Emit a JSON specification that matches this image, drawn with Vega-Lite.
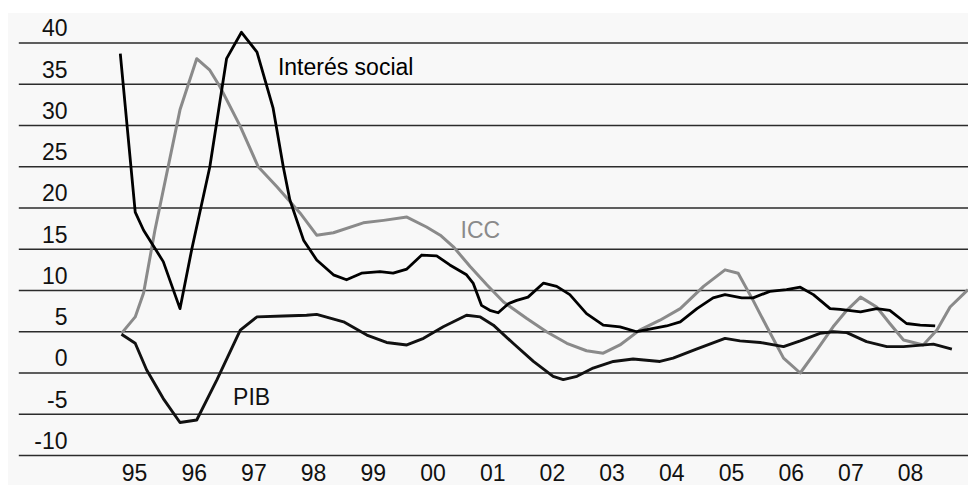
{
  "$schema": "https://vega.github.io/schema/vega-lite/v6.json",
  "width": 960,
  "height": 472,
  "autosize": "none",
  "padding": {"left": 8, "top": 13, "right": 0, "bottom": 0},
  "background": "white",
  "config": {"view": {"stroke": null, "fill": "#f8f8f8"}, "font": "Liberation Sans"},
  "datasets": {
    "grid": [{"v": -10}, {"v": -5}, {"v": 0}, {"v": 5}, {"v": 10}, {"v": 15}, {"v": 20}, {"v": 25}, {"v": 30}, {"v": 35}, {"v": 40}],
    "labels": [
      {"series": "Interés social", "t": 1997.41, "v": 36.1},
      {"series": "ICC", "t": 2000.47, "v": 16.33},
      {"series": "PIB", "t": 1996.66, "v": -3.88}
    ],
    "lines": [
      {"series": "ICC", "t": 1994.79, "v": 4.8},
      {"series": "ICC", "t": 1995.02, "v": 6.8},
      {"series": "ICC", "t": 1995.16, "v": 9.7},
      {"series": "ICC", "t": 1995.35, "v": 17.3},
      {"series": "ICC", "t": 1995.77, "v": 31.9},
      {"series": "ICC", "t": 1996.05, "v": 38.1},
      {"series": "ICC", "t": 1996.27, "v": 36.7},
      {"series": "ICC", "t": 1996.44, "v": 34.7},
      {"series": "ICC", "t": 1996.78, "v": 29.9},
      {"series": "ICC", "t": 1997.08, "v": 25.0},
      {"series": "ICC", "t": 1997.39, "v": 22.6},
      {"series": "ICC", "t": 1997.78, "v": 19.4},
      {"series": "ICC", "t": 1998.06, "v": 16.7},
      {"series": "ICC", "t": 1998.34, "v": 17.0},
      {"series": "ICC", "t": 1998.84, "v": 18.2},
      {"series": "ICC", "t": 1999.18, "v": 18.5},
      {"series": "ICC", "t": 1999.57, "v": 18.9},
      {"series": "ICC", "t": 1999.90, "v": 17.7},
      {"series": "ICC", "t": 2000.13, "v": 16.7},
      {"series": "ICC", "t": 2000.35, "v": 15.3},
      {"series": "ICC", "t": 2000.63, "v": 12.9},
      {"series": "ICC", "t": 2000.91, "v": 10.7},
      {"series": "ICC", "t": 2001.19, "v": 8.6},
      {"series": "ICC", "t": 2001.58, "v": 6.6},
      {"series": "ICC", "t": 2001.91, "v": 5.0},
      {"series": "ICC", "t": 2002.25, "v": 3.6},
      {"series": "ICC", "t": 2002.58, "v": 2.7},
      {"series": "ICC", "t": 2002.86, "v": 2.4},
      {"series": "ICC", "t": 2003.14, "v": 3.4},
      {"series": "ICC", "t": 2003.47, "v": 5.2},
      {"series": "ICC", "t": 2003.81, "v": 6.4},
      {"series": "ICC", "t": 2004.15, "v": 7.8},
      {"series": "ICC", "t": 2004.54, "v": 10.5},
      {"series": "ICC", "t": 2004.90, "v": 12.5},
      {"series": "ICC", "t": 2005.12, "v": 12.1},
      {"series": "ICC", "t": 2005.37, "v": 8.8},
      {"series": "ICC", "t": 2005.60, "v": 5.6},
      {"series": "ICC", "t": 2005.88, "v": 1.8},
      {"series": "ICC", "t": 2006.16, "v": 0.0},
      {"series": "ICC", "t": 2006.44, "v": 2.8},
      {"series": "ICC", "t": 2006.71, "v": 5.6},
      {"series": "ICC", "t": 2006.94, "v": 7.6},
      {"series": "ICC", "t": 2007.17, "v": 9.2},
      {"series": "ICC", "t": 2007.44, "v": 8.0},
      {"series": "ICC", "t": 2007.66, "v": 6.0},
      {"series": "ICC", "t": 2007.89, "v": 4.0},
      {"series": "ICC", "t": 2008.22, "v": 3.4},
      {"series": "ICC", "t": 2008.45, "v": 5.2},
      {"series": "ICC", "t": 2008.67, "v": 8.0},
      {"series": "ICC", "t": 2008.97, "v": 10.1},
      {"series": "PIB", "t": 1994.79, "v": 4.7},
      {"series": "PIB", "t": 1995.02, "v": 3.6},
      {"series": "PIB", "t": 1995.21, "v": 0.4},
      {"series": "PIB", "t": 1995.49, "v": -3.1},
      {"series": "PIB", "t": 1995.77, "v": -6.0},
      {"series": "PIB", "t": 1996.05, "v": -5.7},
      {"series": "PIB", "t": 1996.39, "v": -0.8},
      {"series": "PIB", "t": 1996.78, "v": 5.2},
      {"series": "PIB", "t": 1997.06, "v": 6.8},
      {"series": "PIB", "t": 1997.50, "v": 6.9},
      {"series": "PIB", "t": 1997.89, "v": 7.0},
      {"series": "PIB", "t": 1998.06, "v": 7.1},
      {"series": "PIB", "t": 1998.51, "v": 6.2},
      {"series": "PIB", "t": 1998.90, "v": 4.6},
      {"series": "PIB", "t": 1999.23, "v": 3.7},
      {"series": "PIB", "t": 1999.57, "v": 3.4},
      {"series": "PIB", "t": 1999.85, "v": 4.2},
      {"series": "PIB", "t": 2000.18, "v": 5.6},
      {"series": "PIB", "t": 2000.57, "v": 7.0},
      {"series": "PIB", "t": 2000.80, "v": 6.8},
      {"series": "PIB", "t": 2001.02, "v": 5.8},
      {"series": "PIB", "t": 2001.35, "v": 3.6},
      {"series": "PIB", "t": 2001.69, "v": 1.4},
      {"series": "PIB", "t": 2002.02, "v": -0.4},
      {"series": "PIB", "t": 2002.19, "v": -0.8},
      {"series": "PIB", "t": 2002.42, "v": -0.4},
      {"series": "PIB", "t": 2002.69, "v": 0.6},
      {"series": "PIB", "t": 2003.03, "v": 1.4},
      {"series": "PIB", "t": 2003.36, "v": 1.7},
      {"series": "PIB", "t": 2003.81, "v": 1.4},
      {"series": "PIB", "t": 2004.03, "v": 1.8},
      {"series": "PIB", "t": 2004.42, "v": 2.9},
      {"series": "PIB", "t": 2004.90, "v": 4.2},
      {"series": "PIB", "t": 2005.15, "v": 3.9},
      {"series": "PIB", "t": 2005.49, "v": 3.7},
      {"series": "PIB", "t": 2005.88, "v": 3.2},
      {"series": "PIB", "t": 2006.16, "v": 3.9},
      {"series": "PIB", "t": 2006.49, "v": 4.8},
      {"series": "PIB", "t": 2006.71, "v": 5.0},
      {"series": "PIB", "t": 2006.94, "v": 4.9},
      {"series": "PIB", "t": 2007.27, "v": 3.8},
      {"series": "PIB", "t": 2007.61, "v": 3.2},
      {"series": "PIB", "t": 2007.89, "v": 3.2},
      {"series": "PIB", "t": 2008.39, "v": 3.5},
      {"series": "PIB", "t": 2008.70, "v": 2.9},
      {"series": "Interés social", "t": 1994.77, "v": 38.7},
      {"series": "Interés social", "t": 1995.02, "v": 19.5},
      {"series": "Interés social", "t": 1995.16, "v": 17.3},
      {"series": "Interés social", "t": 1995.49, "v": 13.5},
      {"series": "Interés social", "t": 1995.77, "v": 7.8},
      {"series": "Interés social", "t": 1995.97, "v": 15.1},
      {"series": "Interés social", "t": 1996.27, "v": 25.0},
      {"series": "Interés social", "t": 1996.55, "v": 38.1},
      {"series": "Interés social", "t": 1996.80, "v": 41.3},
      {"series": "Interés social", "t": 1997.06, "v": 38.9},
      {"series": "Interés social", "t": 1997.33, "v": 32.1},
      {"series": "Interés social", "t": 1997.50, "v": 25.0},
      {"series": "Interés social", "t": 1997.61, "v": 21.0},
      {"series": "Interés social", "t": 1997.84, "v": 16.1},
      {"series": "Interés social", "t": 1998.06, "v": 13.7},
      {"series": "Interés social", "t": 1998.34, "v": 11.9},
      {"series": "Interés social", "t": 1998.56, "v": 11.3},
      {"series": "Interés social", "t": 1998.81, "v": 12.1},
      {"series": "Interés social", "t": 1999.12, "v": 12.3},
      {"series": "Interés social", "t": 1999.34, "v": 12.1},
      {"series": "Interés social", "t": 1999.57, "v": 12.6},
      {"series": "Interés social", "t": 1999.82, "v": 14.3},
      {"series": "Interés social", "t": 2000.07, "v": 14.2},
      {"series": "Interés social", "t": 2000.29, "v": 13.1},
      {"series": "Interés social", "t": 2000.57, "v": 11.9},
      {"series": "Interés social", "t": 2000.68, "v": 10.9},
      {"series": "Interés social", "t": 2000.82, "v": 8.2},
      {"series": "Interés social", "t": 2000.96, "v": 7.6},
      {"series": "Interés social", "t": 2001.10, "v": 7.3},
      {"series": "Interés social", "t": 2001.27, "v": 8.4},
      {"series": "Interés social", "t": 2001.41, "v": 8.8},
      {"series": "Interés social", "t": 2001.60, "v": 9.2},
      {"series": "Interés social", "t": 2001.86, "v": 10.9},
      {"series": "Interés social", "t": 2002.08, "v": 10.5},
      {"series": "Interés social", "t": 2002.30, "v": 9.5},
      {"series": "Interés social", "t": 2002.58, "v": 7.2},
      {"series": "Interés social", "t": 2002.86, "v": 5.8},
      {"series": "Interés social", "t": 2003.14, "v": 5.6},
      {"series": "Interés social", "t": 2003.42, "v": 5.0},
      {"series": "Interés social", "t": 2003.70, "v": 5.4},
      {"series": "Interés social", "t": 2003.92, "v": 5.7},
      {"series": "Interés social", "t": 2004.15, "v": 6.2},
      {"series": "Interés social", "t": 2004.43, "v": 7.8},
      {"series": "Interés social", "t": 2004.70, "v": 9.1},
      {"series": "Interés social", "t": 2004.90, "v": 9.5},
      {"series": "Interés social", "t": 2005.18, "v": 9.1},
      {"series": "Interés social", "t": 2005.37, "v": 9.1},
      {"series": "Interés social", "t": 2005.65, "v": 9.9},
      {"series": "Interés social", "t": 2005.93, "v": 10.1},
      {"series": "Interés social", "t": 2006.16, "v": 10.4},
      {"series": "Interés social", "t": 2006.38, "v": 9.5},
      {"series": "Interés social", "t": 2006.66, "v": 7.8},
      {"series": "Interés social", "t": 2006.83, "v": 7.7},
      {"series": "Interés social", "t": 2007.17, "v": 7.4},
      {"series": "Interés social", "t": 2007.44, "v": 7.8},
      {"series": "Interés social", "t": 2007.66, "v": 7.6},
      {"series": "Interés social", "t": 2007.94, "v": 6.0},
      {"series": "Interés social", "t": 2008.17, "v": 5.8},
      {"series": "Interés social", "t": 2008.42, "v": 5.7}
    ]
  },
  "layer": [
    {
      "data": {"name": "grid"},
      "mark": {"type": "rule", "color": "#2b2b2b", "strokeWidth": 1.6},
      "encoding": {
        "y": {"field": "v", "type": "quantitative", "scale": {"domain": [-13.576, 43.636], "nice": false, "zero": false}},
        "x": {"datum": 1993.07, "type": "quantitative", "scale": {"domain": [1992.889, 2008.97], "nice": false, "zero": false}},
        "x2": {"datum": 2008.97}
      }
    },
    {
      "data": {"name": "lines"},
      "mark": {"type": "line", "strokeJoin": "round", "strokeCap": "butt"},
      "encoding": {
        "x": {"field": "t", "type": "quantitative", "scale": {"domain": [1992.889, 2008.97], "nice": false, "zero": false},
          "axis": {"values": [1995, 1996, 1997, 1998, 1999, 2000, 2001, 2002, 2003, 2004, 2005, 2006, 2007, 2008],
            "labelExpr": "slice(toString(datum.value), 2)", "title": null, "grid": false, "ticks": false, "tickSize": 0, "domain": false,
            "labelPadding": -5, "labelBaseline": "alphabetic", "labelFontSize": 23, "labelColor": "#111", "labelFont": "Liberation Sans", "labelFlush": false, "labelOverlap": false}},
        "y": {"field": "v", "type": "quantitative", "scale": {"domain": [-13.576, 43.636], "nice": false, "zero": false},
          "axis": {"values": [-10, -5, 0, 5, 10, 15, 20, 25, 30, 35, 40], "labelExpr": "toString(datum.value)", "title": null, "grid": false, "ticks": false, "tickSize": 0, "domain": false,
            "labelPadding": -59, "labelAlign": "right", "labelBaseline": "alphabetic", "labelOffset": -7, "labelFontSize": 23, "labelColor": "#111", "labelFont": "Liberation Sans", "labelFlush": false, "labelOverlap": false}},
        "color": {"field": "series", "type": "nominal", "scale": {"domain": ["ICC", "PIB", "Interés social"], "range": ["#8a8a8a", "#111111", "#000000"]}, "legend": null},
        "strokeWidth": {"field": "series", "type": "nominal", "scale": {"domain": ["ICC", "PIB", "Interés social"], "range": [3, 2.8, 3.8]}, "legend": null},
        "order": {"field": "t", "type": "quantitative"}
      }
    },
    {
      "data": {"name": "labels"},
      "mark": {"type": "text", "align": "left", "baseline": "alphabetic", "fontSize": 23, "font": "Liberation Sans"},
      "encoding": {
        "x": {"field": "t", "type": "quantitative"},
        "y": {"field": "v", "type": "quantitative"},
        "text": {"field": "series"},
        "color": {"field": "series", "type": "nominal", "legend": null}
      }
    }
  ]
}
